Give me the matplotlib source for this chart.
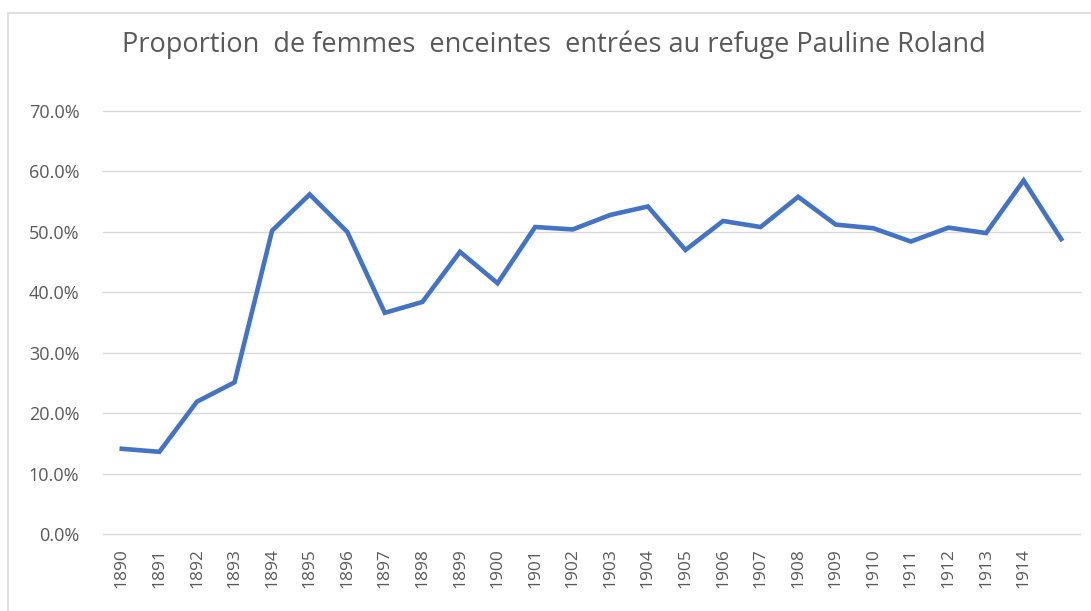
import matplotlib
matplotlib.use("Agg")
import matplotlib.pyplot as plt
from matplotlib.patches import Rectangle
from matplotlib.ticker import PercentFormatter

# Data (share of pregnant women, %)
years = [str(y) for y in range(1890, 1915)] + [""]
proportion = [14.1, 13.6, 21.9, 25.1, 50.2, 56.2, 50.0, 36.6, 38.4, 46.7,
              41.5, 50.8, 50.4, 52.8, 54.2, 47.0, 51.8, 50.8, 55.8, 51.2,
              50.6, 48.4, 50.7, 49.8, 58.5, 48.8]
y_ticks = [0, 10, 20, 30, 40, 50, 60, 70]

title = "Proportion  de femmes  enceintes  entrées au refuge Pauline Roland"

plt.rcParams['font.family'] = ['Open Sans', 'DejaVu Sans']

fig = plt.figure(figsize=(10.91, 6.11), dpi=100)
fig.patches.append(Rectangle((8 / 1091, -0.1), 1.2, (611 - 13) / 611 + 0.1,
                             transform=fig.transFigure, fill=False,
                             edgecolor="#d9d9d9", linewidth=1.2))

ax = fig.add_axes([103 / 1091, (611 - 534) / 611, (1080 - 103) / 1091, (534 - 111) / 611])

x = list(range(len(proportion)))
ax.plot(x, proportion, color="#4472c4", linewidth=3.3, solid_joinstyle="miter")

ax.set_xlim(-0.5, len(proportion) - 0.5)
ax.set_ylim(0, 70)
ax.set_yticks(y_ticks)
ax.yaxis.set_major_formatter(PercentFormatter(decimals=1))
ax.set_xticks(x)
ax.set_xticklabels(years, rotation=90)

ax.grid(axis="y", color="#d9d9d9", linewidth=1.0)
ax.set_axisbelow(True)
for gl in ax.get_ygridlines():
    gl.set_clip_on(False)
for s in ax.spines.values():
    s.set_visible(False)
ax.tick_params(axis="both", length=0, labelsize=12.5, labelcolor="#595959")
ax.tick_params(axis="y", pad=17, labelsize=13)
ax.tick_params(axis="x", pad=10)

fig.text(554 / 1091, 1 - 45 / 611, title, ha="center", va="center",
         fontsize=19.5, color="#595959")

fig.savefig("out.png", dpi=100)
